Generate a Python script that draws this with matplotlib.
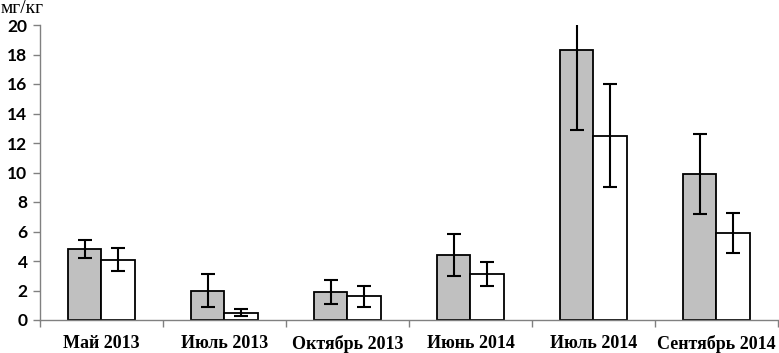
import matplotlib
matplotlib.use("Agg")
import matplotlib.pyplot as plt
import numpy as np

categories = ["Май 2013", "Июль 2013", "Октябрь 2013", "Июнь 2014", "Июль 2014", "Сентябрь 2014"]
grey_values = [4.8, 2.0, 1.9, 4.4, 18.3, 9.9]
grey_errors = [0.6, 1.1, 0.8, 1.4, 5.4, 2.7]
white_values = [4.1, 0.5, 1.6, 3.1, 12.5, 5.9]
white_errors = [0.8, 0.25, 0.7, 0.8, 3.5, 1.35]
y_ticks = [0, 2, 4, 6, 8, 10, 12, 14, 16, 18, 20]
y_label = "мг/кг"

fig = plt.figure(figsize=(7.79, 3.53), dpi=100)
ax = fig.add_axes([40/779, 33/353, 738/779, 295/353])

x = np.arange(len(categories))
w = 0.27
ekw = dict(elinewidth=1.5, capthick=1.5, ecolor="black")
ax.bar(x - w/2, grey_values, w, color="#c0c0c0", edgecolor="black", linewidth=1.3,
       yerr=grey_errors, capsize=5, error_kw=ekw, zorder=2)
ax.bar(x + w/2, white_values, w, color="white", edgecolor="black", linewidth=1.3,
       yerr=white_errors, capsize=5, error_kw=ekw, zorder=2)

ax.set_xlim(-0.5, len(categories) - 0.5)
ax.set_ylim(0, 20)
ax.set_yticks(y_ticks)
ax.set_yticklabels([str(t) for t in y_ticks], fontfamily="Lato", fontweight="bold", fontsize=12.5)

ax.set_xticks(np.arange(len(categories) + 1) - 0.5)
ax.set_xticklabels([])
ax.set_xticks(x, minor=True)
ax.set_xticklabels(categories, minor=True, fontfamily="Liberation Serif", fontweight="bold", fontsize=13)
ax.tick_params(axis="x", which="minor", length=0, pad=11)
ax.tick_params(axis="x", which="major", length=5, color="#808080", width=1)
ax.tick_params(axis="y", length=5, color="#808080", width=1, pad=4)

for s in ["top", "right"]:
    ax.spines[s].set_visible(False)
for s in ["left", "bottom"]:
    ax.spines[s].set_color("#808080")
    ax.spines[s].set_linewidth(1)

fig.text(1/779, 1 - 17/353, y_label, fontfamily="Liberation Serif", fontsize=14, ha="left", va="bottom")

fig.savefig("out.png", dpi=100)
